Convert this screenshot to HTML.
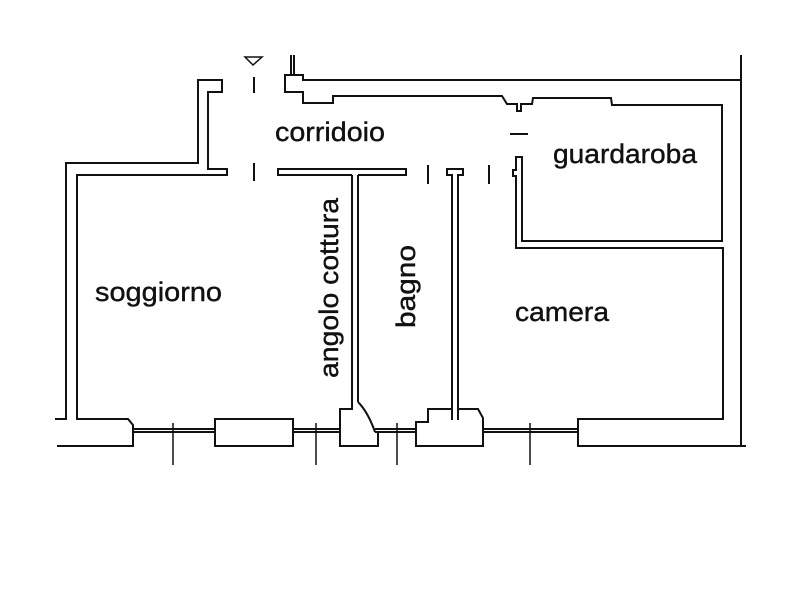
<!DOCTYPE html>
<html><head><meta charset="utf-8"><style>
html,body{margin:0;padding:0;background:#fff}
svg{display:block}
text{font-family:"Liberation Sans",Arial,sans-serif;font-size:27px;fill:#111;stroke:#111;stroke-width:0.4}
</style></head><body>
<svg width="800" height="594" viewBox="0 0 800 594" xmlns="http://www.w3.org/2000/svg">
<g fill="none" stroke="#111" stroke-width="2">
<polyline points="55,419 66,419 66,163 198,163 198,80 222,80 222,92 208,92 208,169 227,169 227,175 77,175 77,419 128,419 133,425 133,446 57,446"/>
<line x1="254" y1="77" x2="254" y2="93"/>
<line x1="254" y1="163" x2="254" y2="181"/>
<polygon points="245,57 262,57 253,65" stroke-width="1.5"/>
<polyline points="352,175 278,175 278,169 406,169 406,175 358,175"/>
<line x1="352" y1="175" x2="352" y2="400"/>
<line x1="358" y1="175" x2="358" y2="402"/>
<line x1="428" y1="165" x2="428" y2="184"/>
<line x1="489" y1="165" x2="489" y2="184"/>
<polyline points="452,420 452,175 447,175 447,169 463,169 463,175 458,175 458,420"/>
<line x1="291" y1="55" x2="291" y2="75"/>
<line x1="294" y1="55" x2="294" y2="75"/>
<polyline points="291,75 303,75 303,80 741,80"/>
<polyline points="291,75 285,75 285,92 303,92 303,103 333,103 333,96 502,96 507,104 517,104 517,111 521,111 521,104 532,104 533,98 611,98 612,105 722,105 722,241 522,241 522,157 516,157 516,170 513,170 513,176 516,176 516,248 723,248 723,419 578,419 578,446 746,446"/>
<line x1="741" y1="55" x2="741" y2="446"/>
<line x1="510" y1="134" x2="528" y2="134"/>
<line x1="133" y1="429" x2="215" y2="429"/>
<line x1="133" y1="432" x2="215" y2="432"/>
<polygon points="215,419 293,419 293,446 215,446"/>
<line x1="293" y1="429" x2="340" y2="429"/>
<line x1="293" y1="432" x2="340" y2="432"/>
<polyline points="352,400 352,409 340,409 340,446 378,446 378,432"/>
<path d="M358,402 Q368,412 375,432"/>
<polyline points="375,432 416,432 416,422 428,422 428,409 452,409"/>
<line x1="375" y1="429" x2="416" y2="429"/>
<polyline points="458,409 478,409 483,418 483,446 416,446 416,432"/>
<line x1="483" y1="429" x2="578" y2="429"/>
<line x1="483" y1="432" x2="578" y2="432"/>
<line x1="578" y1="419" x2="578" y2="446"/>
<line x1="173" y1="423" x2="173" y2="465" stroke-width="1.5"/>
<line x1="316" y1="423" x2="316" y2="465" stroke-width="1.5"/>
<line x1="397" y1="423" x2="397" y2="465" stroke-width="1.5"/>
<line x1="530" y1="423" x2="530" y2="465" stroke-width="1.5"/>
</g>
<text x="275" y="141" textLength="110" lengthAdjust="spacingAndGlyphs">corridoio</text>
<text x="553" y="163" textLength="144" lengthAdjust="spacingAndGlyphs">guardaroba</text>
<text x="95" y="301" textLength="127" lengthAdjust="spacingAndGlyphs">soggiorno</text>
<text x="515" y="321" textLength="94" lengthAdjust="spacingAndGlyphs">camera</text>
<text transform="translate(338,378) rotate(-90)" textLength="180" lengthAdjust="spacingAndGlyphs">angolo cottura</text>
<text transform="translate(415,328) rotate(-90)" textLength="83" lengthAdjust="spacingAndGlyphs">bagno</text>
</svg>
</body></html>
